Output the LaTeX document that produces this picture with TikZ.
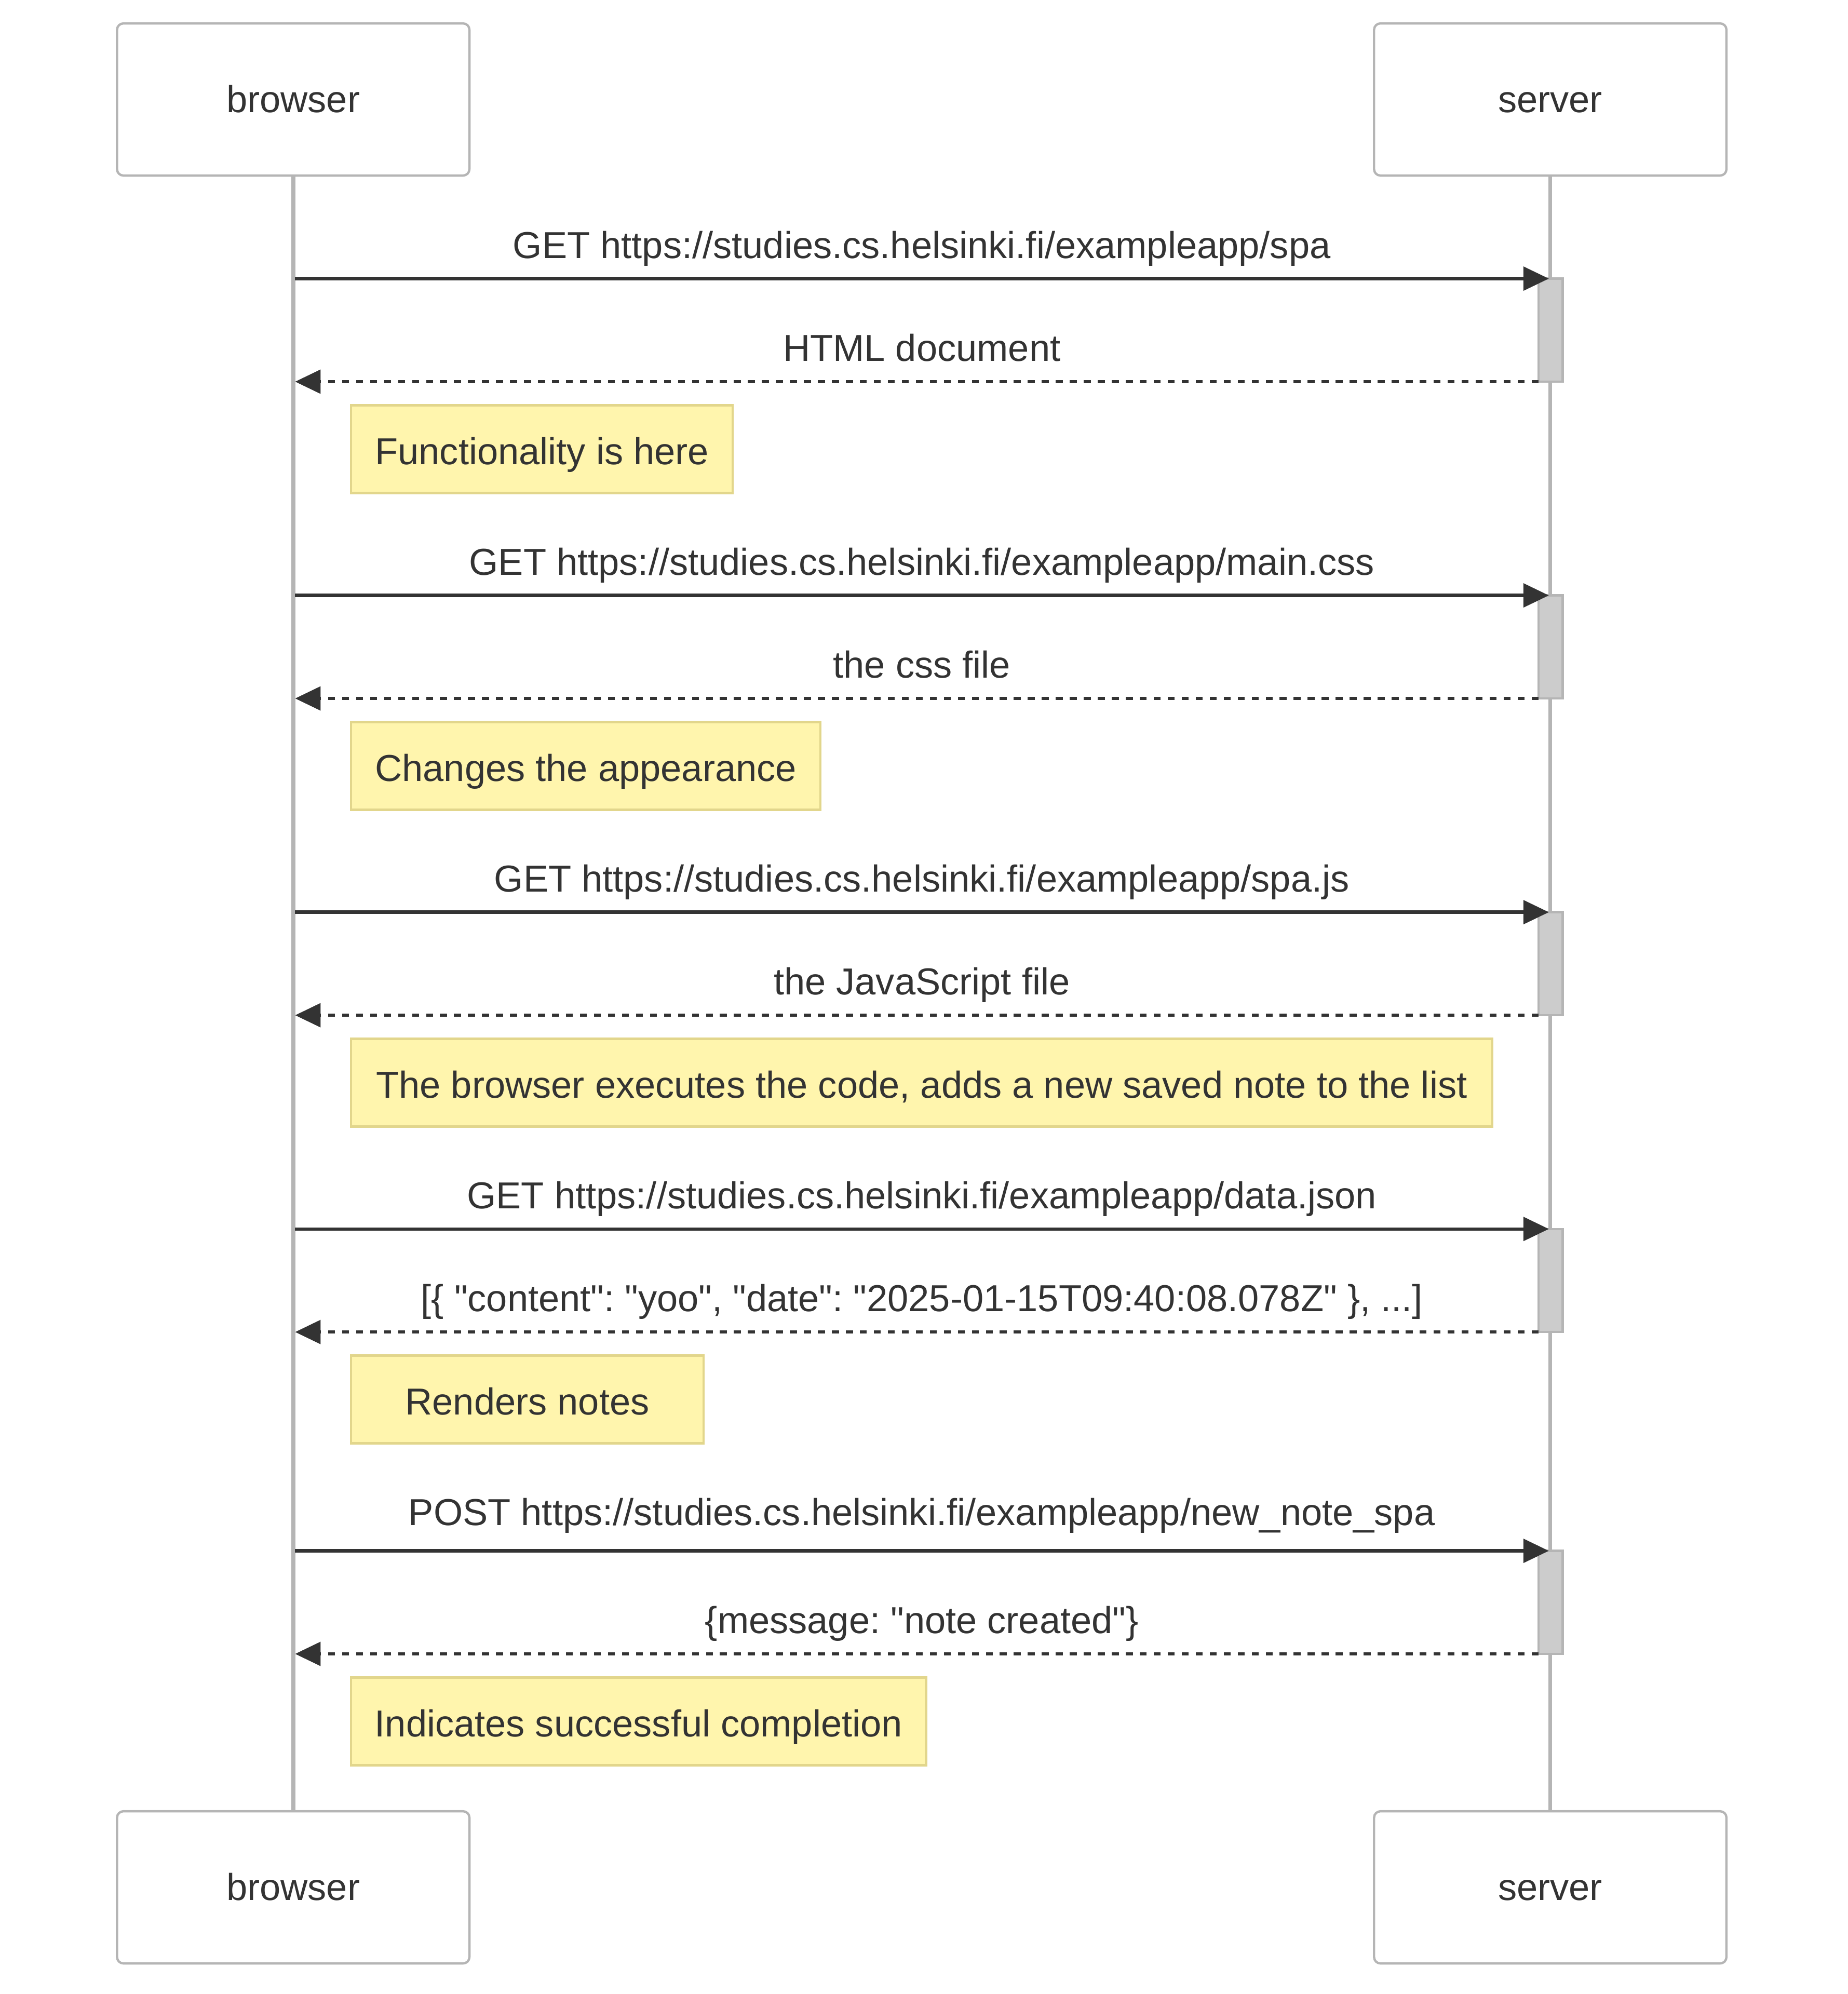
\documentclass[tikz,border=0pt]{standalone}
\usepackage{fontspec}
\setmainfont{Liberation Sans}[Ligatures=TeXOff]
\usetikzlibrary{arrows.meta}
\definecolor{txt}{HTML}{333333}
\definecolor{lifegrey}{HTML}{B5B5B5}
\definecolor{actfill}{HTML}{CCCCCC}
\definecolor{notefill}{HTML}{FFF5AD}
\definecolor{notedraw}{HTML}{E2D68C}
\frenchspacing
\begin{document}
\begin{tikzpicture}[x=1pt,y=-1pt,
  font=\fontsize{29.5}{35}\selectfont, text=txt,
  actorbox/.style={draw=lifegrey, line width=1.8pt, fill=white, rounded corners=5pt,
    minimum width=277pt, minimum height=119.6pt, inner sep=0pt, text height=20.6pt, text depth=0pt},
  lifeline/.style={draw=lifegrey, line width=3.1pt},
  actbox/.style={draw=lifegrey, line width=1.8pt, fill=actfill, minimum width=19pt,
    minimum height=81pt, inner sep=0pt, outer sep=0pt, anchor=north},
  reqarrow/.style={draw=txt, line width=2.6pt, -{Triangle[length=20pt,width=18.5pt]}},
  resparrow/.style={reqarrow, dash pattern=on 5.5pt off 5.5pt},
  msglabel/.style={anchor=base, inner sep=0pt},
  notebox/.style={draw=notedraw, line width=1.8pt, fill=notefill, anchor=north west,
    minimum height=69pt, inner sep=0pt, outer sep=0pt, text height=24pt, text depth=0pt},
]
\useasboundingbox (0,0) rectangle (1452.65,1567.35);
\fill[white] (0,0) rectangle (1452.65,1567.35);

% actors
\node[actorbox] (btop) at (230.5,78.2) {browser};
\node[actorbox] (stop) at (1218.6,78.2) {server};
\node[actorbox] (bbot) at (230.5,1483.5) {browser};
\node[actorbox] (sbot) at (1218.6,1483.5) {server};

% lifelines
\draw[lifeline] (btop.south) -- (bbot.north);
\draw[lifeline] (stop.south) -- (sbot.north);

% activations
\node[actbox] (act1) at (1218.9,219) {};
\node[actbox] (act2) at (1218.9,468) {};
\node[actbox] (act3) at (1218.9,717) {};
\node[actbox] (act4) at (1218.9,966) {};
\node[actbox] (act5) at (1218.9,1219) {};

% coordinates on lifelines
\coordinate (b1) at (232,219);   \coordinate (s1) at (1217.5,219);
\coordinate (b2) at (232,300);
\coordinate (b3) at (232,468);   \coordinate (s3) at (1217.5,468);
\coordinate (b4) at (232,549);
\coordinate (b5) at (232,717);   \coordinate (s5) at (1217.5,717);
\coordinate (b6) at (232,798);
\coordinate (b7) at (232,966);   \coordinate (s7) at (1217.5,966);
\coordinate (b8) at (232,1047);
\coordinate (b9) at (232,1219);  \coordinate (s9) at (1217.5,1219);
\coordinate (b10) at (232,1300);

% messages
\draw[reqarrow] (b1) -- (s1);
\draw[resparrow] (act1.south west) -- (b2);
\draw[reqarrow] (b3) -- (s3);
\draw[resparrow] (act2.south west) -- (b4);
\draw[reqarrow] (b5) -- (s5);
\draw[resparrow] (act3.south west) -- (b6);
\draw[reqarrow] (b7) -- (s7);
\draw[resparrow] (act4.south west) -- (b8);
\draw[reqarrow] (b9) -- (s9);
\draw[resparrow] (act5.south west) -- (b10);

% message labels
\node[msglabel] (l1) at (724.6,203) {GET https://studies.cs.helsinki.fi/exampleapp/spa};
\node[msglabel] (l2) at (724.6,284) {HTML document};
\node[msglabel] (l3) at (724.6,452) {GET https://studies.cs.helsinki.fi/exampleapp/main.css};
\node[msglabel] (l4) at (724.6,533) {the css file};
\node[msglabel] (l5) at (724.6,701) {GET https://studies.cs.helsinki.fi/exampleapp/spa.js};
\node[msglabel] (l6) at (724.6,782) {the JavaScript file};
\node[msglabel] (l7) at (724.6,950) {GET https://studies.cs.helsinki.fi/exampleapp/data.json};
\node[msglabel] (l8) at (724.6,1031) {[\{ "content": "yoo", "date": "2025-01-15T09:40:08.078Z" \}, ...]};
\node[msglabel] (l9) at (724.6,1199) {POST https://studies.cs.helsinki.fi/exampleapp/new\_note\_spa};
\node[msglabel] (l10) at (724.6,1284) {\{message: "note created"\}};

% notes
\node[notebox, minimum width=300pt] (n1) at (276,318.5) {Functionality is here};
\node[notebox, minimum width=369pt] (n2) at (276,567.5) {Changes the appearance};
\node[notebox, minimum width=897pt] (n3) at (276,816.5) {The browser executes the code, adds a new saved note to the list};
\node[notebox, minimum width=277pt] (n4) at (276,1065.5) {Renders notes};
\node[notebox, minimum width=452pt] (n5) at (276,1318.5) {Indicates successful completion};
\end{tikzpicture}
\end{document}
